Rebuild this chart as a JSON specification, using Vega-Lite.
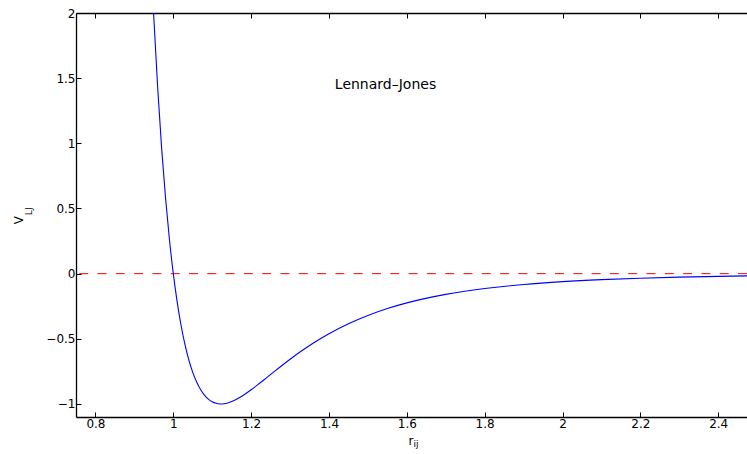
{
  "$schema": "https://vega.github.io/schema/vega-lite/v6.json",
  "width": 671,
  "height": 404,
  "autosize": {"type": "none"},
  "padding": {"left": 76, "top": 13, "right": 0, "bottom": 37},
  "background": "white",
  "config": {
    "view": {"stroke": null},
    "axis": {
      "grid": false,
      "domainColor": "black",
      "domainWidth": 1.3,
      "tickColor": "black",
      "tickWidth": 1,
      "tickSize": -5,
      "labelColor": "black",
      "labelFont": "DejaVu Sans",
      "labelFontSize": 12,
      "labelPadding": 6,
      "format": "~g",
      "title": null
    }
  },
  "resolve": {"axis": {"x": "independent"}},
  "layer": [
    {
      "data": {"values": [{"v": 0}]},
      "mark": {"type": "rule", "color": "#ff0000", "strokeDash": [9, 9.3], "strokeWidth": 1},
      "encoding": {
        "y": {"field": "v", "type": "quantitative", "scale": {"domain": [-1.1, 2], "nice": false, "zero": false},
          "axis": {"values": [-1, -0.5, 0, 0.5, 1, 1.5, 2], "format": "~g", "labelPadding": 6}}
      }
    },
    {
      "data": {"values": [
        {"r": 0.94, "V": 2.6065}, {"r": 0.95, "V": 1.961}, {"r": 0.96, "V": 1.4182}, {"r": 0.97, "V": 0.96291},
        {"r": 0.98, "V": 0.5819}, {"r": 0.99, "V": 0.26408}, {"r": 1.0, "V": 0.0}, {"r": 1.01, "V": -0.21838},
        {"r": 1.02, "V": -0.39791}, {"r": 1.03, "V": -0.54442}, {"r": 1.04, "V": -0.66287}, {"r": 1.05, "V": -0.75751},
        {"r": 1.06, "V": -0.83196}, {"r": 1.07, "V": -0.88932}, {"r": 1.08, "V": -0.93222}, {"r": 1.09, "V": -0.96293},
        {"r": 1.1, "V": -0.98337}, {"r": 1.11, "V": -0.9952}, {"r": 1.12, "V": -0.99982}, {"r": 1.1225, "V": -1.0},
        {"r": 1.13, "V": -0.99845}, {"r": 1.14, "V": -0.99211}, {"r": 1.15, "V": -0.98168}, {"r": 1.16, "V": -0.96792},
        {"r": 1.18, "V": -0.93285}, {"r": 1.2, "V": -0.89096}, {"r": 1.22, "V": -0.8452}, {"r": 1.24, "V": -0.79766},
        {"r": 1.26, "V": -0.74981}, {"r": 1.28, "V": -0.7027}, {"r": 1.3, "V": -0.65702}, {"r": 1.33, "V": -0.59212},
        {"r": 1.36, "V": -0.53225}, {"r": 1.4, "V": -0.46069}, {"r": 1.45, "V": -0.38407}, {"r": 1.5, "V": -0.32034},
        {"r": 1.55, "V": -0.26765}, {"r": 1.6, "V": -0.22421}, {"r": 1.7, "V": -0.15885}, {"r": 1.8, "V": -0.11415},
        {"r": 1.9, "V": -0.08322}, {"r": 2.0, "V": -0.06152}, {"r": 2.1, "V": -0.0461}, {"r": 2.2, "V": -0.03497},
        {"r": 2.3, "V": -0.02684}, {"r": 2.4, "V": -0.02082}, {"r": 2.5, "V": -0.01632}
      ]},
      "mark": {"type": "line", "color": "#0000ff", "strokeWidth": 1.1, "clip": true, "interpolate": "monotone"},
      "encoding": {
        "x": {"field": "r", "type": "quantitative", "scale": {"domain": [0.75, 2.474], "nice": false, "zero": false},
          "axis": {"orient": "bottom", "format": "~g", "values": [0.8, 1, 1.2, 1.4, 1.6, 1.8, 2, 2.2, 2.4]}},
        "y": {"field": "V", "type": "quantitative", "scale": {"domain": [-1.1, 2], "nice": false, "zero": false}}
      }
    },
    {
      "data": {"values": [{"x": 1.415, "y": 1.446, "label": "Lennard–Jones"}]},
      "mark": {"type": "text", "align": "left", "baseline": "middle", "font": "DejaVu Sans", "fontSize": 14, "color": "black"},
      "encoding": {
        "x": {"field": "x", "type": "quantitative", "scale": {"domain": [0.75, 2.474], "nice": false, "zero": false},
          "axis": {"orient": "top", "labels": false, "values": [0.8, 1, 1.2, 1.4, 1.6, 1.8, 2, 2.2, 2.4]}},
        "y": {"field": "y", "type": "quantitative", "scale": {"domain": [-1.1, 2], "nice": false, "zero": false}},
        "text": {"field": "label"}
      }
    },
    {
      "data": {"values": [{"x": 1.6107, "y": -1.3145, "label": "r"}]},
      "mark": {"type": "text", "align": "center", "baseline": "alphabetic", "font": "DejaVu Sans", "fontSize": 12, "color": "black"},
      "encoding": {
        "x": {"field": "x", "type": "quantitative", "scale": {"domain": [0.75, 2.474], "nice": false, "zero": false}, "axis": null},
        "y": {"field": "y", "type": "quantitative", "scale": {"domain": [-1.1, 2], "nice": false, "zero": false}},
        "text": {"field": "label"}
      }
    },
    {
      "data": {"values": [{"x": 1.6172, "y": -1.332, "label": "ij"}]},
      "mark": {"type": "text", "align": "left", "baseline": "alphabetic", "font": "DejaVu Sans", "fontSize": 9, "color": "black"},
      "encoding": {
        "x": {"field": "x", "type": "quantitative", "scale": {"domain": [0.75, 2.474], "nice": false, "zero": false}, "axis": null},
        "y": {"field": "y", "type": "quantitative", "scale": {"domain": [-1.1, 2], "nice": false, "zero": false}},
        "text": {"field": "label"}
      }
    },
    {
      "data": {"values": [{"x": 0.6151, "y": 0.4106, "label": "V"}]},
      "mark": {"type": "text", "align": "center", "baseline": "alphabetic", "angle": 270, "font": "DejaVu Sans", "fontSize": 12, "color": "black"},
      "encoding": {
        "x": {"field": "x", "type": "quantitative", "scale": {"domain": [0.75, 2.474], "nice": false, "zero": false}, "axis": null},
        "y": {"field": "y", "type": "quantitative", "scale": {"domain": [-1.1, 2], "nice": false, "zero": false}},
        "text": {"field": "label"}
      }
    },
    {
      "data": {"values": [{"x": 0.6357, "y": 0.449, "label": "LJ"}]},
      "mark": {"type": "text", "align": "left", "baseline": "alphabetic", "angle": 270, "font": "DejaVu Sans", "fontSize": 9, "color": "black"},
      "encoding": {
        "x": {"field": "x", "type": "quantitative", "scale": {"domain": [0.75, 2.474], "nice": false, "zero": false}, "axis": null},
        "y": {"field": "y", "type": "quantitative", "scale": {"domain": [-1.1, 2], "nice": false, "zero": false}},
        "text": {"field": "label"}
      }
    }
  ]
}
